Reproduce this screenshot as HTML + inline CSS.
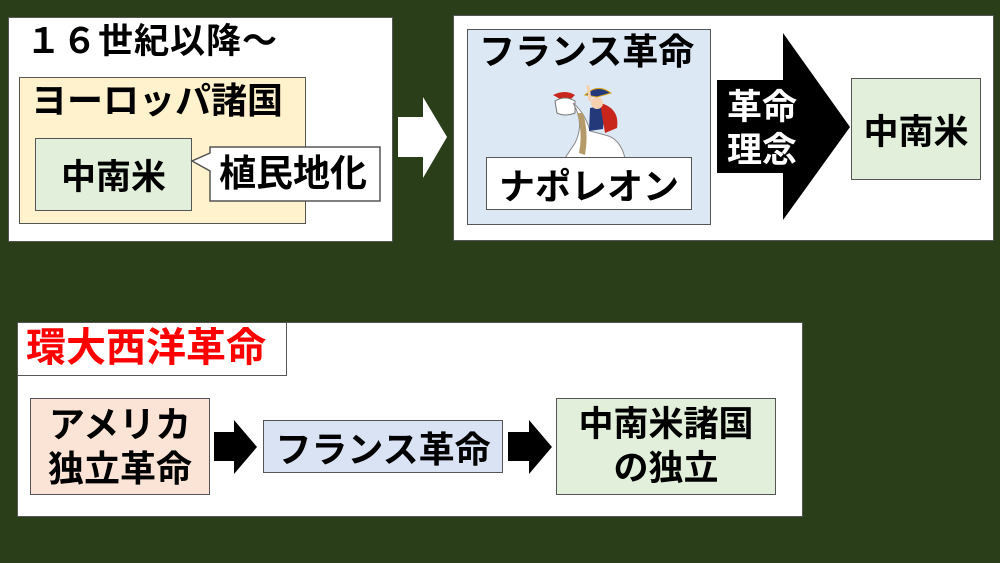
<!DOCTYPE html>
<html><head><meta charset="utf-8"><style>
*{margin:0;padding:0;box-sizing:border-box}
body{width:1000px;height:563px;background:#2a3e1a;position:relative;overflow:hidden;font-family:"Liberation Sans","Noto Sans CJK JP",sans-serif;font-weight:bold;color:#000}
.b{position:absolute;border:1.5px solid #555}
.t{position:absolute;white-space:nowrap;font-size:30px;line-height:1}
.c{display:flex;align-items:center;justify-content:center;text-align:center}
</style></head><body>
<div class="b" style="left:8px;top:17px;width:385px;height:225px;background:#fff"></div>
<div class="t" style="left:26px;top:24px;font-size:35px;letter-spacing:1px">１６世紀以降～</div>
<div class="b" style="left:19px;top:77px;width:287px;height:147px;background:#fff2cc"></div>
<div class="t" style="left:31px;top:83px;font-size:36px">ヨーロッパ諸国</div>
<div class="b c" style="left:35px;top:138px;width:157px;height:73px;background:#e2efda;font-size:35px">中南米</div>
<svg style="position:absolute;left:0;top:0" width="1000" height="563">
<path d="M210 147 H380 V201 H210 V171 L192 161 L210 153 Z" fill="#fff" stroke="#555" stroke-width="1.5"/>
<polygon points="398,117 423,117 423,97 447,137 423,178 423,157 398,157" fill="#fff"/>
</svg>
<div class="t" style="left:219px;top:155px;font-size:37px">植民地化</div>

<div class="b" style="left:453px;top:15px;width:541px;height:226px;background:#fff"></div>
<div class="b" style="left:467px;top:29px;width:244px;height:196px;background:#dde8f5"></div>
<div class="t" style="left:479px;top:34px;font-size:36px">フランス革命</div>
<svg style="position:absolute;left:545px;top:83px" width="90" height="75" viewBox="0 0 90 75">
<path d="M8 12 Q20 6 30 12 L22 20 Z" fill="#c8261c"/>
<path d="M10 18 Q20 12 30 18 L30 30 Q20 34 12 30 Z" fill="#fff" stroke="#777"/>
<path d="M28 20 Q40 40 30 60 L20 75 L80 75 Q75 55 60 52 L45 48 Q40 30 28 20Z" fill="#fff" stroke="#888"/>
<path d="M32 30 Q38 50 34 70 L40 72 Q44 50 38 30Z" fill="#b59a6a"/>
<path d="M45 25 L60 22 L58 46 L44 48 Z" fill="#23397a"/>
<path d="M55 20 Q75 25 72 45 L60 50 Z" fill="#c8261c"/>
<circle cx="52" cy="20" r="6" fill="#f6d1b0"/>
<path d="M40 12 Q52 0 66 10 L52 14 Z" fill="#23397a" stroke="#d4a520"/>
<path d="M45 18 L43 2" stroke="#f6d1b0" stroke-width="3"/>
</svg>
<div class="b c" style="left:486px;top:157px;width:206px;height:53px;background:#fff;font-size:36px">ナポレオン</div>
<svg style="position:absolute;left:0;top:0" width="1000" height="563">
<polygon points="717,80 783,80 783,33 850,127 783,220 783,173 717,173" fill="#000"/>
</svg>
<div class="t" style="left:727px;top:86px;color:#fff;font-size:35px;line-height:43px;white-space:normal;width:75px">革命<br>理念</div>
<div class="b c" style="left:851px;top:78px;width:130px;height:102px;background:#e2efda;font-size:35px">中南米</div>

<div class="b" style="left:17px;top:322px;width:786px;height:195px;background:#fff"></div>
<div class="b" style="left:17px;top:322px;width:270px;height:54px;background:#fff"></div>
<div class="t" style="left:26px;top:328px;color:#f00;font-size:40px">環大西洋革命</div>
<div class="b c" style="left:30px;top:398px;width:180px;height:97px;background:#fbe4d5;font-size:36px;line-height:44px">アメリカ<br>独立革命</div>
<svg style="position:absolute;left:0;top:0" width="1000" height="563">
<polygon points="214,432 234,432 234,420 257,447 234,474 234,461 214,461" fill="#000"/>
<polygon points="508,432 529,432 529,420 552,447 529,474 529,461 508,461" fill="#000"/>
</svg>
<div class="b c" style="left:263px;top:420px;width:240px;height:53px;background:#dae3f3;font-size:36px">フランス革命</div>
<div class="b c" style="left:556px;top:398px;width:220px;height:97px;background:#e2efda;font-size:35px;line-height:44px">中南米諸国<br>の独立</div>
</body></html>
